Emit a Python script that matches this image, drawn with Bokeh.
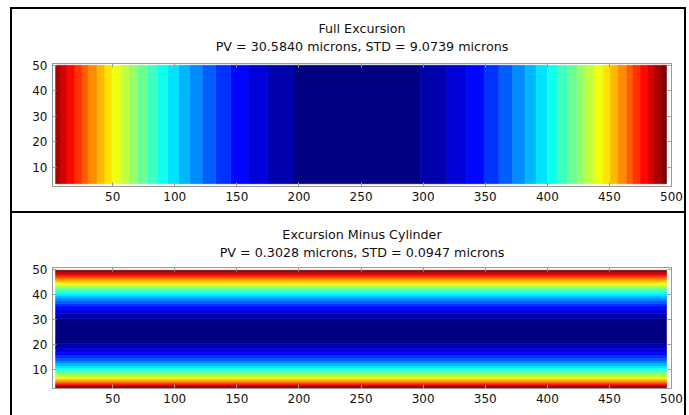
import numpy as np
from bokeh.plotting import figure
from bokeh.layouts import column
from bokeh.models import ColumnDataSource, LinearAxis, FixedTicker, Title, LinearColorMapper
from bokeh.transform import transform
from bokeh.embed import file_html
from bokeh.resources import INLINE

# ---------------- data ----------------
x_ticks = [50, 100, 150, 200, 250, 300, 350, 400, 450, 500]
y_ticks = [10, 20, 30, 40, 50]

top_title = "Full Excursion"
top_sub = "PV = 30.5840 microns, STD = 9.0739 microns"
bot_title = "Excursion Minus Cylinder"
bot_sub = "PV = 0.3028 microns, STD = 0.0947 microns"

n_levels = 24
img_x = [4, 496]
top_img_y = [3.5, 50.1]
bot_img_y = [2.7, 49.7]

# contour band boundaries (level k-1 -> k)
top_x_edges_left = [196, 175, 159, 145, 133, 122, 112, 103, 94, 86, 78, 70, 63, 56, 49, 43, 37, 30, 25, 19, 13, 8, 2]
top_x_edges_right = [298, 319, 335, 349, 361, 372, 382, 391, 400, 408, 416, 424, 431, 438, 445, 451, 457, 464, 469, 475, 481, 486, 492]
bot_y_edges_low = [20.5, 18.4, 16.8, 15.5, 14.3, 13.2, 12.3, 11.4, 10.6, 9.9, 9.1, 8.3, 7.6, 6.9, 6.3, 5.8, 5.3, 4.8, 4.4, 4.0, 3.6, 3.3, 3.0]
bot_y_edges_high = [30.4, 32.5, 34.1, 35.4, 36.5, 37.6, 38.6, 39.5, 40.3, 41.1, 41.9, 42.6, 43.3, 44.0, 44.6, 45.2, 45.9, 46.5, 47.0, 47.6, 48.1, 48.7, 49.2]

# ---------------- style ----------------
GRAY = "#9a9a9a"
FONT = "DejaVu Sans"
TXT = "#111111"


def jet(t):
    r = min(max(1.5 - abs(4 * t - 3), 0), 1)
    g = min(max(1.5 - abs(4 * t - 2), 0), 1)
    b = min(max(1.5 - abs(4 * t - 1), 0), 1)
    return "#%02x%02x%02x" % (int(round(r * 255)), int(round(g * 255)), int(round(b * 255)))


palette = [jet(k / (n_levels - 1)) for k in range(n_levels)]
mapper = LinearColorMapper(palette=palette, low=-0.5, high=n_levels - 0.5)


def bands(lo_edges, hi_edges, lo_lim, hi_lim):
    """Return (start, end, level) of every band between the two edge lists."""
    out = [(lo_edges[0], hi_edges[0], 0)]
    n = len(lo_edges)
    for k in range(1, n + 1):
        a = max(lo_edges[k] if k < n else lo_lim, lo_lim)
        b = lo_edges[k - 1]
        if b > a:
            out.append((a, b, k))
        a = hi_edges[k - 1]
        b = min(hi_edges[k] if k < n else hi_lim, hi_lim)
        if b > a:
            out.append((a, b, k))
    return out


tb = bands(top_x_edges_left, top_x_edges_right, img_x[0], img_x[1])
top_src = ColumnDataSource(dict(
    left=[b[0] for b in tb], right=[b[1] for b in tb],
    bottom=[top_img_y[0]] * len(tb), top=[top_img_y[1]] * len(tb),
    level=[b[2] for b in tb]))

bb = bands(bot_y_edges_low, bot_y_edges_high, bot_img_y[0], bot_img_y[1])
bot_src = ColumnDataSource(dict(
    left=[img_x[0]] * len(bb), right=[img_x[1]] * len(bb),
    bottom=[b[0] for b in bb], top=[b[1] for b in bb],
    level=[b[2] for b in bb]))


def panel(title, sub, src, width, height, top_b, frame_h, gap, styles):
    p = figure(width=width, height=height, x_range=(1.5, 500), y_range=(2.4, 50.8),
               output_backend="svg", toolbar_location=None,
               min_border_left=40, min_border_right=17, min_border_top=top_b,
               min_border_bottom=height - top_b - frame_h - (4 if "border" in styles else 0),
               background_fill_color="white", border_fill_color="white",
               outline_line_color=GRAY, styles=styles)
    p.title.visible = False
    p.quad(left="left", right="right", bottom="bottom", top="top", source=src,
           fill_color=transform("level", mapper), line_color=transform("level", mapper),
           line_width=0.6)
    p.xgrid.visible = False
    p.ygrid.visible = False
    p.add_layout(LinearAxis(ticker=FixedTicker(ticks=x_ticks),
                            major_label_overrides={t: "" for t in x_ticks}), "above")
    p.add_layout(LinearAxis(ticker=FixedTicker(ticks=y_ticks),
                            major_label_overrides={t: "" for t in y_ticks}), "right")
    for ax in p.xaxis:
        ax.ticker = FixedTicker(ticks=x_ticks)
    for ax in p.yaxis:
        ax.ticker = FixedTicker(ticks=y_ticks)
    for ax in p.axis:
        ax.axis_line_color = GRAY
        ax.major_tick_line_color = GRAY
        ax.major_tick_in = 4
        ax.major_tick_out = 0
        ax.minor_tick_line_color = None
        ax.major_label_text_font = FONT
        ax.major_label_text_font_size = "12px"
        ax.major_label_text_color = TXT
    p.xaxis[0].major_label_standoff = 8
    p.yaxis[0].major_label_standoff = 5
    p.add_layout(Title(text=title + "\n" + sub, align="center", text_align="center",
                       text_font=FONT, text_font_size="12.7px", text_font_style="normal",
                       text_line_height=1.26, text_color=TXT, standoff=gap), "above")
    return p


p1 = panel(top_title, top_sub, top_src, 676, 206, 53, 120, 18, {"border": "2px solid black"})
p2 = panel(bot_title, bot_sub, bot_src, 676, 202, 54, 121, 14,
           {"border-left": "2px solid black", "border-right": "2px solid black"})

layout = column(p1, p2, margin=(7, 0, 0, 10), spacing=0)
open("out.html", "w").write(file_html(layout, INLINE))
